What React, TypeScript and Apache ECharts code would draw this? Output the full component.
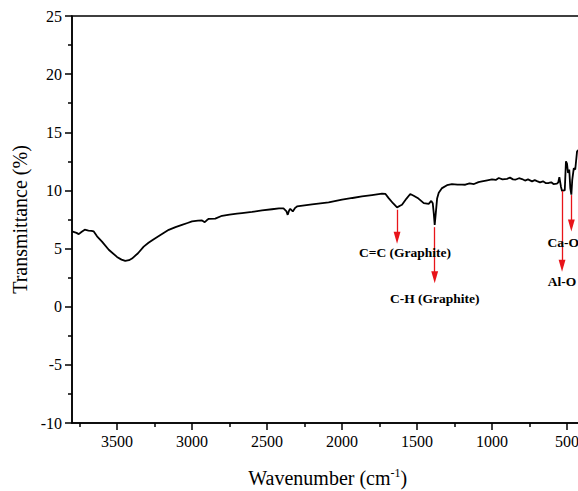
import React, { useEffect, useRef } from "react";
import * as echarts from "echarts";

const wavenumbers = [
  3800, 3770, 3755, 3735, 3715, 3690, 3670, 3655, 3633, 3600, 3555, 3500, 3470, 3445, 3420, 3400,
  3360, 3322, 3290, 3255, 3200, 3155, 3110, 3067, 3030, 3000, 2960, 2933, 2915, 2900, 2888, 2845,
  2800, 2750, 2700, 2667, 2600, 2533, 2467, 2420, 2390, 2370, 2362, 2352, 2345, 2328, 2312, 2300,
  2200, 2089, 2000, 1930, 1867, 1800, 1733, 1710, 1689, 1660, 1633, 1610, 1600, 1570, 1545, 1522,
  1490, 1455, 1422, 1405, 1395, 1388, 1382, 1375, 1366, 1355, 1333, 1300, 1267, 1230, 1200, 1178,
  1150, 1120, 1090, 1067, 1040, 1000, 975, 955, 930, 900, 880, 860, 845, 820, 800, 780, 760, 733,
  715, 700, 680, 660, 640, 622, 605, 590, 567, 558, 551, 540, 533, 522, 515, 507, 500, 493, 485,
  478, 471, 465, 455, 445, 433, 422, 410, 400,
];
const transmittance = [
  6.47, 6.35, 6.24, 6.45, 6.62, 6.55, 6.52, 6.47, 6.05, 5.6, 4.9, 4.28, 4.05, 3.94, 4.0, 4.14,
  4.6, 5.17, 5.5, 5.81, 6.25, 6.61, 6.85, 7.04, 7.2, 7.33, 7.4, 7.42, 7.27, 7.45, 7.56, 7.58,
  7.82, 7.92, 8.0, 8.05, 8.15, 8.28, 8.38, 8.45, 8.45, 8.2, 7.9, 8.3, 8.42, 8.19, 8.5, 8.62,
  8.8, 8.97, 9.2, 9.35, 9.48, 9.6, 9.72, 9.7, 9.34, 8.9, 8.54, 8.7, 8.77, 9.3, 9.69, 9.54,
  9.3, 8.91, 8.85, 9.1, 8.9, 8.0, 7.04, 8.0, 9.3, 9.8, 10.2, 10.45, 10.55, 10.5, 10.5, 10.49,
  10.6, 10.55, 10.72, 10.78, 10.85, 10.95, 10.9, 11.07, 10.95, 11.0, 11.1, 10.95, 10.92, 11.05,
  10.98, 10.85, 10.95, 10.78, 10.88, 10.8, 10.7, 10.78, 10.62, 10.64, 10.7, 10.55, 10.58, 10.7,
  11.15, 10.3, 9.95, 10.0, 10.0, 12.5, 12.3, 11.5, 11.8, 10.2, 9.63, 10.9, 11.9, 11.8, 13.36,
  13.5, 13.3, 13.4,
];

const xMajorTicks = [500, 1000, 1500, 2000, 2500, 3000, 3500];
const xMinorTicks = [750, 1250, 1750, 2250, 2750, 3250, 3750];

const annotationLabels = ["C=C (Graphite)", "C-H (Graphite)", "Al-O", "Ca-O"];
const annotationX = [1633, 1382, 533, 471];
const annotationFrom = [8.34, 6.84, 9.95, 9.6];
const annotationTo = [5.92, 2.53, 3.53, 6.98];

const FONT = "Times New Roman, Liberation Serif, serif";
const ARROW_HEAD = "path://M0,0 M14,0 M7,0 L11,16 L3,16 Z";

export default function App() {
  const ref = useRef<HTMLDivElement>(null);
  useEffect(() => {
    document.body.style.margin = "0";
    if (!ref.current) return;
    const chart = echarts.init(ref.current, undefined, { renderer: "svg" });
    const data = wavenumbers.map((w, i) => [w, transmittance[i]]);
    const xMin = 390;
    const xMax = 3800;
    const labelStyles = [
      { distance: 8, offset: [8, 0] },
      { distance: 14 },
      { distance: 9 },
      { distance: 10, offset: [-8, 0] },
    ];
    const markData = annotationLabels.map((lab, i) => [
      {
        coord: [annotationX[i], annotationFrom[i]],
        label: { formatter: lab, ...labelStyles[i] },
      },
      { coord: [annotationX[i], annotationTo[i]] },
    ]);
    const plain = (v: number) => String(v);
    chart.setOption({
      animation: false,
      textStyle: { fontFamily: FONT },
      grid: {
        left: 72,
        top: 16,
        bottom: 68,
        width: (xMax - xMin) * 0.15,
        outerBoundsMode: "none",
        containLabel: false,
        show: true,
        borderColor: "#000",
        borderWidth: 1.5,
        backgroundColor: "transparent",
      },
      xAxis: [
        {
          type: "value",
          inverse: true,
          min: xMin,
          max: xMax,
          name: "Wavenumber (cm{sup|-1})",
          nameLocation: "middle",
          nameGap: 44,
          nameTextStyle: {
            fontSize: 20,
            fontFamily: FONT,
            color: "#000",
            rich: {
              sup: { fontSize: 12, fontFamily: FONT, color: "#000", verticalAlign: "top", padding: [0, 0, 10, 0] },
            },
          },
          axisLine: { show: true, onZero: false, lineStyle: { color: "#000", width: 1.5 } },
          axisTick: { show: true, customValues: xMajorTicks, length: 7, lineStyle: { color: "#000", width: 1.5 } },
          axisLabel: { customValues: xMajorTicks, formatter: plain, fontSize: 16, fontFamily: FONT, color: "#000", margin: 10 },
          splitLine: { show: false },
        },
        {
          type: "value",
          inverse: true,
          min: xMin,
          max: xMax,
          position: "bottom",
          axisLine: { show: false, onZero: false },
          axisTick: { show: true, customValues: xMinorTicks, length: 4, lineStyle: { color: "#000", width: 1.5 } },
          axisLabel: { show: false },
          splitLine: { show: false },
        },
      ],
      yAxis: {
        type: "value",
        min: -10,
        max: 25,
        interval: 5,
        name: "Transmittance (%)",
        nameLocation: "middle",
        nameGap: 42,
        nameTextStyle: { fontSize: 20, fontFamily: FONT, color: "#000" },
        axisLine: { show: true, onZero: false, lineStyle: { color: "#000", width: 1.5 } },
        axisTick: { show: true, length: 7, lineStyle: { color: "#000", width: 1.5 } },
        minorTick: { show: true, splitNumber: 2, length: 4, lineStyle: { color: "#000", width: 1.5 } },
        axisLabel: { formatter: plain, fontSize: 16, fontFamily: FONT, color: "#000", margin: 10 },
        splitLine: { show: false },
      },
      series: [
        {
          type: "line",
          xAxisIndex: 0,
          data,
          showSymbol: false,
          symbol: "none",
          lineStyle: { color: "#000", width: 1.8 },
          markLine: {
            silent: true,
            symbol: ["none", ARROW_HEAD],
            symbolSize: 12,
            itemStyle: { color: "#e8141a" },
            lineStyle: { color: "#e8141a", width: 1.3, type: "solid" },
            label: {
              show: true,
              position: "end",
              distance: 6,
              fontSize: 13.5,
              fontWeight: "bold",
              fontFamily: FONT,
              color: "#000",
            },
            data: markData,
          },
        },
      ],
    });
    return () => chart.dispose();
  }, []);
  return <div ref={ref} style={{ width: 578, height: 491 }} />;
}
